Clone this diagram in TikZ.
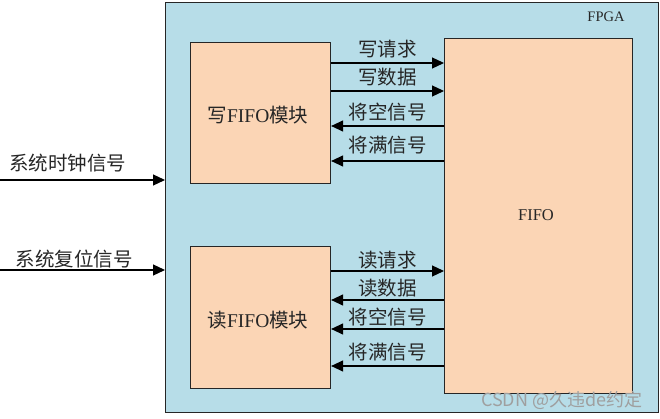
\documentclass[tikz,border=0pt]{standalone}
\usepackage{fontspec}
\setmainfont{Liberation Serif}
\newfontfamily\cjk{Noto Sans CJK SC}
\usetikzlibrary{arrows.meta}
\definecolor{fpgabg}{HTML}{B7DDE8}
\definecolor{peach}{HTML}{FBD5B5}
\definecolor{edge}{HTML}{262626}
\tikzset{
  box/.style={draw=edge, line width=1.1pt, anchor=north west, inner sep=0pt},
  sig/.style={draw=black, line width=1.2pt, -{Triangle[length=12pt,width=11pt]}},
  lbl/.style={font=\fontsize{19.5}{19.5}\selectfont\cjk, inner sep=0pt, text=black!85},
}
\begin{document}
\begin{tikzpicture}[x=1pt,y=-1pt]
\useasboundingbox (0,0) rectangle (660,419);
\node[box, fill=fpgabg, minimum width=493pt, minimum height=410pt] (fpga) at (165,2) {};
\node[font=\fontsize{14.5}{14.5}\selectfont, text=black!85] (fpgalbl) at (606,17) {FPGA};
\node[box, fill=peach, minimum width=140pt, minimum height=141pt] (wf) at (190,42) {};
\node[font=\fontsize{19.5}{19.5}\selectfont, text=black!85] (wft) at (258,115) {{\cjk 写}FIFO{\cjk 模块}};
\node[box, fill=peach, minimum width=140pt, minimum height=142pt] (rf) at (190,246) {};
\node[font=\fontsize{19.5}{19.5}\selectfont, text=black!85] (rft) at (258,320) {{\cjk 读}FIFO{\cjk 模块}};
\node[box, fill=peach, minimum width=188pt, minimum height=355pt] (fifo) at (444,38) {};
\node[font=\fontsize{16.5}{16.5}\selectfont, text=black!85] (fifot) at (536,215) {FIFO};
% left inputs
\coordinate (clk) at (0,180);
\coordinate (rst) at (0,270);
\draw[sig] (clk) -- (fpga.west |- clk) node[lbl, pos=0.41, yshift=17pt] {系统时钟信号};
\draw[sig] (rst) -- (fpga.west |- rst) node[lbl, pos=0.45, yshift=11pt] {系统复位信号};
% write side
\coordinate (w1) at (0,63);
\coordinate (w2) at (0,91);
\coordinate (w3) at (0,126);
\coordinate (w4) at (0,161);
\draw[sig] (wf.east |- w1) -- (fifo.west |- w1) node[lbl, midway, yshift=14pt] {写请求};
\draw[sig] (wf.east |- w2) -- (fifo.west |- w2) node[lbl, midway, yshift=14pt] {写数据};
\draw[sig] (fifo.west |- w3) -- (wf.east |- w3) node[lbl, midway, yshift=14pt] {将空信号};
\draw[sig] (fifo.west |- w4) -- (wf.east |- w4) node[lbl, midway, yshift=16pt] {将满信号};
% read side
\coordinate (r1) at (0,271);
\coordinate (r2) at (0,300);
\coordinate (r3) at (0,329);
\coordinate (r4) at (0,366);
\draw[sig] (rf.east |- r1) -- (fifo.west |- r1) node[lbl, midway, yshift=11pt] {读请求};
\draw[sig] (fifo.west |- r2) -- (rf.east |- r2) node[lbl, midway, yshift=12pt] {读数据};
\draw[sig] (fifo.west |- r3) -- (rf.east |- r3) node[lbl, midway, yshift=12pt] {将空信号};
\draw[sig] (fifo.west |- r4) -- (rf.east |- r4) node[lbl, midway, yshift=14pt] {将满信号};
% watermark
\node[font=\fontsize{18}{18}\selectfont\cjk, text=gray!75, anchor=east] (wm) at (646,400) {CSDN @久违de约定};
\end{tikzpicture}
\end{document}
